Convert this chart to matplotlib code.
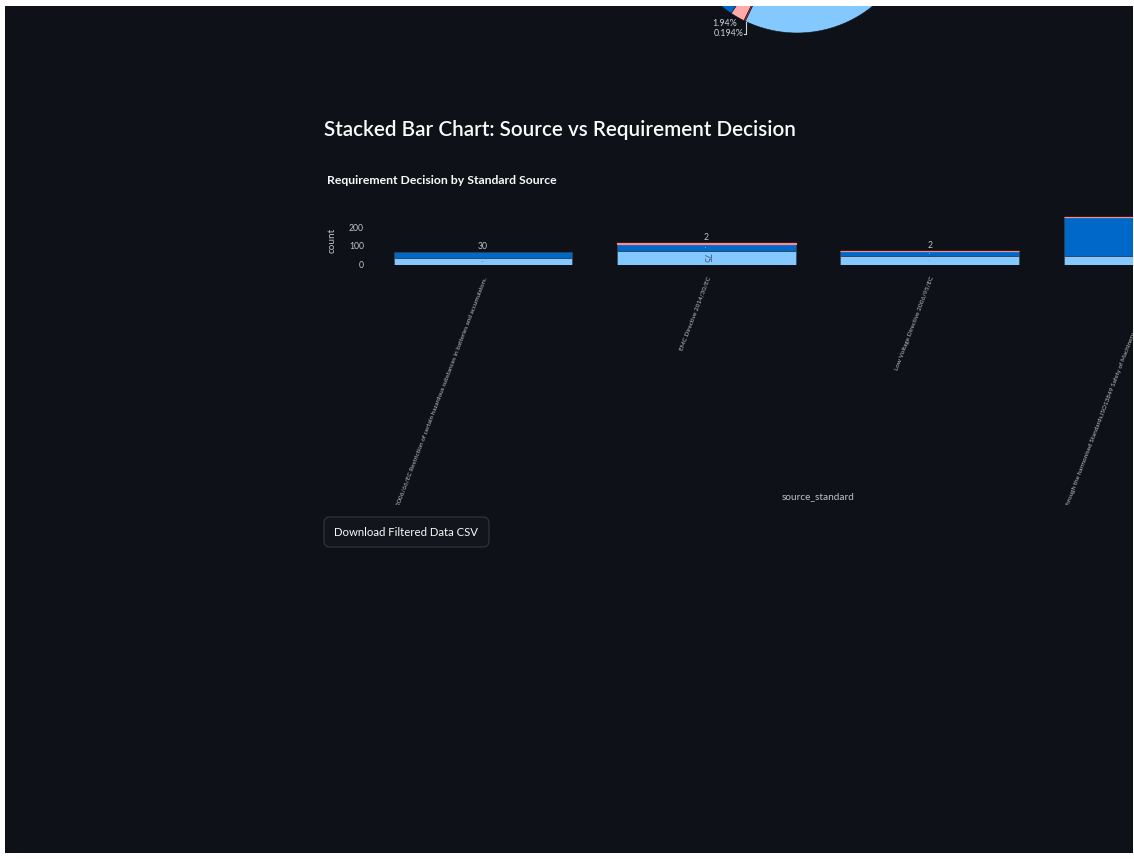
import numpy as np
import matplotlib
matplotlib.use("Agg")
import matplotlib.pyplot as plt
from matplotlib.patches import FancyBboxPatch, Rectangle
from matplotlib.transforms import Bbox, ScaledTranslation

# ---- data ----
sources = [
    "Directive 2006/66/EC Restriction of certain hazardous substances in batteries and accumulators.",
    "EMC Directive 2014/30/EC",
    "Low Voltage Directive 2006/95/EC",
    "Machinery Directive 2006/42/EC through the harmonised Standards,ISO13849 Safety of Machinery and Control Systems",
]
count_bottom = [37, 75, 46, 45]   # light blue segment
count_middle = [30, 38, 27, 210]  # dark blue segment
count_top = [0, 2, 2, 3]          # pink segment

# overall decision split (pie above the bar chart)
pie_counts = [210, 10, 1, 294]

yticks = [0, 100, 200]

# ---- style ----
W, H = 1134, 859
BG = "#0e1117"
TXT = "#fafafa"
TICK = "#bfc2c8"
LIGHT, DARK, PINK, RED = "#83c9ff", "#0068c9", "#ffabab", "#ff2b2b"
FONT = ["Lato", "DejaVu Sans"]
plt.rcParams["font.family"] = FONT


def rect(x0, y0, x1, y1):
    # pixel box (top-left origin) -> figure fraction
    return [x0 / W, 1 - y1 / H, (x1 - x0) / W, (y1 - y0) / H]


fig = plt.figure(figsize=(W / 100, H / 100), dpi=100, facecolor="white")

# page background
bg = fig.add_axes([0, 0, 1, 1], zorder=0)
bg.set_xlim(0, W)
bg.set_ylim(H, 0)
bg.axis("off")
bg.add_patch(Rectangle((0, 0), W, H, color=BG))

# ---- pie (only the lower edge is in view) ----
cx, cy, r = 797, -87, 120
pax = fig.add_axes(rect(cx - r, cy - r, cx + r, cy + r), zorder=1)
pax.pie(pie_counts, colors=[DARK, PINK, RED, LIGHT], startangle=90,
        counterclock=True, radius=1,
        wedgeprops=dict(edgecolor=BG, linewidth=0.4))
pax.set_xlim(-1, 1)
pax.set_ylim(-1, 1)
pax.set_aspect("equal")
pax.axis("off")

# ---- stacked bars ----
ax = fig.add_axes(rect(371.5, 214.2, 1264.5, 264.5), zorder=1)
ax.set_facecolor("none")
x = np.arange(len(sources))
b = np.array(count_bottom)
m = np.array(count_middle)
t = np.array(count_top)
for vals, base, col, edge, lw in [(b, 0 * b, LIGHT, "#3a4250", 0.5),
                                  (m, b, DARK, "#3a4250", 0.5),
                                  (t, b + m, PINK, "#ff8a8a", 0.9)]:
    keep = vals > 0
    ax.bar(x[keep], vals[keep], width=0.8, bottom=base[keep], color=col,
           edgecolor=edge, linewidth=lw)
ax.set_xlim(-0.5, len(sources) - 0.5)
ax.set_ylim(0, 271)
ax.set_yticks(yticks)
ax.set_yticklabels([str(v) for v in yticks], color=TICK, fontsize=6.2)
ax.tick_params(axis="y", length=0, pad=5.4)
ax.set_xticks([])
for s in ax.spines.values():
    s.set_visible(False)

px_per_unit = (264.5 - 214.2) / 271
px_per_cat = (1264.5 - 371.5) / len(sources)
for i in range(len(sources)):
    if 371.5 + (i + 0.5) * px_per_cat > W - 8:
        continue  # value labels of this bar fall outside the page
    segs = [(b[i], 0, LIGHT), (m[i], b[i], DARK), (t[i], b[i] + m[i], PINK)]
    top = max(k for k in range(3) if segs[k][0] > 0)
    for k, (v, base, col) in enumerate(segs):
        if v == 0:
            continue
        ink = "#fafafa" if col == DARK else "#44536a"
        if k == top:
            ax.text(i, base + v + 5, str(v), ha="center", va="bottom",
                    color=TICK, fontsize=6.2)
        elif v * px_per_unit >= 12:
            ax.text(i, base + v / 2, str(v), ha="center", va="center",
                    rotation=-90, color=ink, fontsize=6.2)
        else:
            ax.text(i, base + v / 2, str(v), ha="center", va="center",
                    color=ink, fontsize=1.2)

# category labels, slanted and cut off at the bottom of the chart frame
clip = Bbox([[0, H - 505], [W, H]])
off = ScaledTranslation(3 / 100, -12.5 / 100, fig.dpi_scale_trans)
for i, name in enumerate(sources):
    lab = ax.text(i, 0, name, transform=ax.transData + off, ha="right",
                  va="center", rotation=69, rotation_mode="anchor",
                  color=TICK, fontsize=4.6)
    lab.set_clip_box(clip)
    lab.set_clip_on(True)

# ---- page text and widgets ----
ov = fig.add_axes([0, 0, 1, 1], zorder=3)
ov.set_xlim(0, W)
ov.set_ylim(H, 0)
ov.axis("off")

ov.text(324, 136, "Stacked Bar Chart: Source vs Requirement Decision",
        color=TXT, fontsize=14.9, fontweight="semibold", va="baseline")
ov.text(327, 184, "Requirement Decision by Standard Source",
        color=TXT, fontsize=8.8, fontweight="bold", va="baseline")
ov.text(332, 240, "count", color=TICK, fontsize=7.2, rotation=90,
        ha="center", va="center")
ov.text(818, 497, "source_standard", color=TICK, fontsize=7.2,
        ha="center", va="center")

# pie slice labels for the two thin slices
fr = np.cumsum([0] + pie_counts) / sum(pie_counts)
for k, dy, lead in [(1, 6, False), (2, 13, True)]:
    th = np.deg2rad(90 + 360 * (fr[k] + fr[k + 1]) / 2)
    lx, ly = cx + r * np.cos(th), cy - r * np.sin(th)
    pct = 100 * pie_counts[k] / sum(pie_counts)
    txt = f"{pct:.3g}%"
    if lead:
        ov.plot([lx + 1.5, lx + 1.5, lx - 0.5], [ly + 1, ly + dy, ly + dy],
                color="#d0d2d6", lw=0.8)
    ov.text(lx - 1, ly + dy, txt, color="#d0d2d6", fontsize=6.4,
            ha="right", va="center")

ov.add_patch(FancyBboxPatch((324, 517), 165, 30,
                            boxstyle="round,pad=0,rounding_size=6",
                            facecolor="#12151c", edgecolor="#343741",
                            linewidth=0.8))
ov.text(334, 532.5, "Download Filtered Data CSV", color=TXT, fontsize=8.2,
        va="center")

# white frame around the page
fr_ax = fig.add_axes([0, 0, 1, 1], zorder=10)
fr_ax.set_xlim(0, W)
fr_ax.set_ylim(H, 0)
fr_ax.axis("off")
for x0, y0, w, h in [(0, 0, W, 6), (0, 0, 5, H), (W - 1, 0, 1, H), (0, H - 6, W, 6)]:
    fr_ax.add_patch(Rectangle((x0, y0), w, h, color="white", lw=0))

fig.savefig("out.png", dpi=100, facecolor="white")
